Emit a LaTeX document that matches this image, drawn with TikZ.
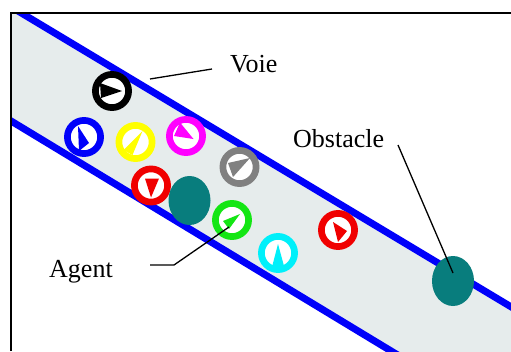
\documentclass[tikz,border=0pt]{standalone}
\usepackage{fontspec}
\setmainfont{Liberation Serif}
\usetikzlibrary{calc,shapes.geometric}
\definecolor{roadfill}{RGB}{230,236,236}
\definecolor{laneblue}{RGB}{0,0,250}
\definecolor{obsteal}{RGB}{8,125,125}
\definecolor{agyellow}{RGB}{255,255,0}
\definecolor{agmagenta}{RGB}{255,0,255}
\definecolor{aggray}{RGB}{128,128,128}
\definecolor{agred}{RGB}{240,0,0}
\definecolor{aggreen}{RGB}{20,230,20}
\definecolor{agcyan}{RGB}{0,240,250}
\tikzset{
  agent/.style={circle, line width=6.7pt, minimum size=33.2pt, inner sep=0pt, outer sep=0pt, fill=white},
  obstacle/.style={ellipse, fill=obsteal, inner sep=0pt, outer sep=0pt},
  lbltext/.style={inner sep=0pt, anchor=base west, font=\fontsize{26}{30}\selectfont},
  lead/.style={line width=1.3pt, black},
  lane/.style={line width=7pt, laneblue},
  frameline/.style={line width=2pt, black}
}
\newcommand\agentnode[6]{%
  \node[agent, draw=#2] (#1) at #3 {};
  \fill[#2] ($(#1.center)+#4$) -- ($(#1.center)+#5$) -- ($(#1.center)+#6$) -- cycle;}
\begin{document}
\begin{tikzpicture}[x=1pt,y=-1pt]
\useasboundingbox (0,0) rectangle (511,351);
\begin{scope}
  \clip (12,14) rectangle (511,351);
  \fill[roadfill] (11,6.8) -- (511,306.8) -- (511,423.5) -- (11,121) -- cycle;
  \draw[lane] (0,0.2) -- (520,312.2);
  \draw[lane] (0,114.3) -- (520,429);
\end{scope}
\draw[frameline] (11,351) -- (11,13) -- (511,13);

\agentnode{black1}{black}{(112,91)}{(-12,-8)}{(10,0)}{(-11,7)}
\agentnode{blue1}{laneblue}{(84,137)}{(-6,-11)}{(-5,14)}{(5,6)}
\agentnode{yellow1}{agyellow}{(135.5,142)}{(7,-11)}{(-12,8)}{(-3,13)}
\agentnode{magenta1}{agmagenta}{(186,136)}{(-6,-13.5)}{(-12,0)}{(7.5,3)}
\agentnode{gray1}{aggray}{(239.5,167)}{(10.5,-9)}{(-11.5,-4)}{(-6.5,10)}
\agentnode{red1}{agred}{(151,185.5)}{(-6,-7)}{(8,-7)}{(0,12)}
\agentnode{green1}{aggreen}{(232,220)}{(8,-6)}{(-9,1)}{(-3,9)}
\agentnode{red2}{agred}{(338,230)}{(-5,-8)}{(9,1)}{(0,12)}
\agentnode{cyan1}{agcyan}{(278,253)}{(0,-9)}{(-6,14)}{(6,13)}

\node[obstacle, minimum width=42pt, minimum height=49pt] (obs1) at (189.5,200.5) {};
\node[obstacle, minimum width=42pt, minimum height=50pt] (obs2) at (453,281) {};

\node[lbltext] (voie) at (230,72) {Voie};
\node[lbltext] (obstacle) at (293,147) {Obstacle};
\node[lbltext] (agentlbl) at (49,277) {Agent};

\coordinate (voiept) at (150,79);
\draw[lead] ([shift={(-18,-3)}]voie.base west) -- (voiept);
\draw[lead] ([shift={(105,-2)}]obstacle.base west) -- ([shift={(0,-8)}]obs2.center);
\draw[lead] ([shift={(101,-12)}]agentlbl.base west) -- ++(24,0) -- ([shift={(-3,7)}]green1.center);
\end{tikzpicture}
\end{document}
